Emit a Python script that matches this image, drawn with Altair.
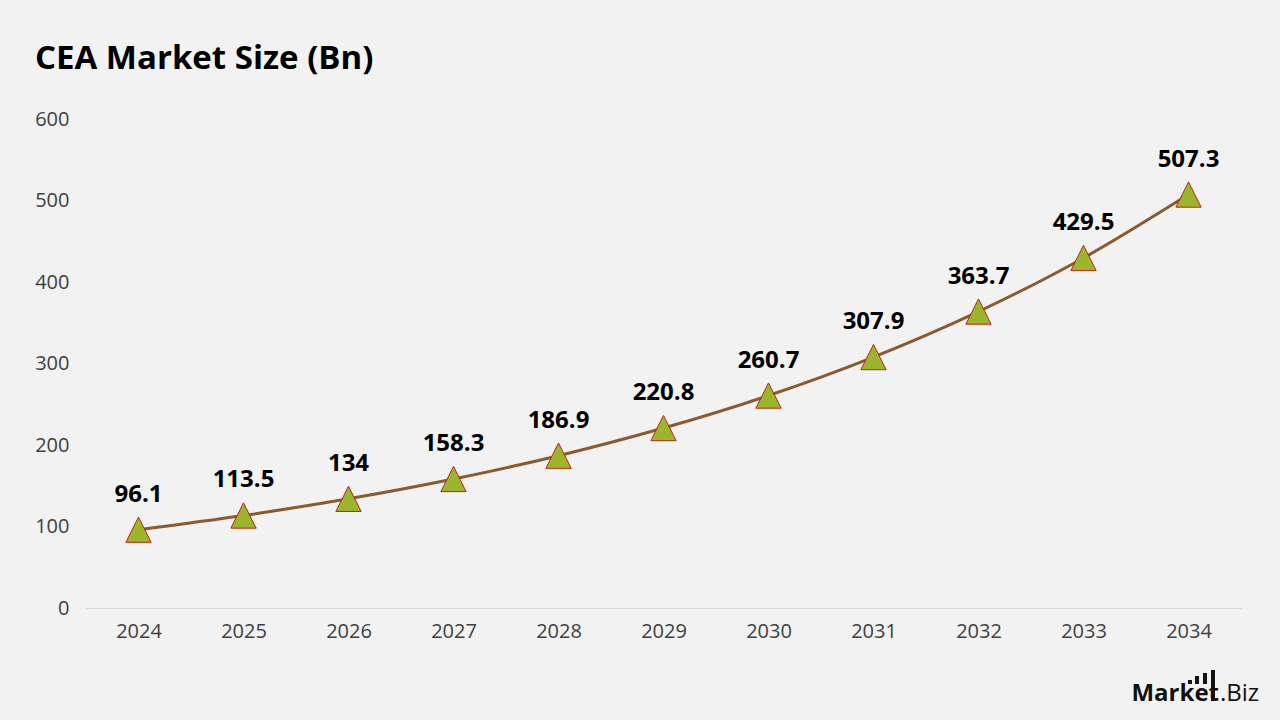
import altair as alt
import pandas as pd

# Market size series (billions)
years = ["2024", "2025", "2026", "2027", "2028", "2029", "2030", "2031", "2032", "2033", "2034"]
values = [96.1, 113.5, 134, 158.3, 186.9, 220.8, 260.7, 307.9, 363.7, 429.5, 507.3]
labels = ["96.1", "113.5", "134", "158.3", "186.9", "220.8", "260.7", "307.9", "363.7", "429.5", "507.3"]

df = pd.DataFrame({"year": years, "value": values, "label": labels})

FONT = "Open Sans"
BG = "#F2F2F2"

x = alt.X(
    "year:N",
    sort=years,
    title=None,
    scale=alt.Scale(paddingInner=0, paddingOuter=0.5),
    axis=alt.Axis(
        labelAngle=0,
        labelFontSize=20,
        labelColor="#404040",
        labelFont=FONT,
        labelPadding=13,
        domainColor="#D9D9D9",
        domainWidth=1,
        ticks=False,
        grid=False,
    ),
)
y = alt.Y(
    "value:Q",
    title=None,
    scale=alt.Scale(domain=[0, 600], nice=False),
    axis=alt.Axis(
        values=[0, 100, 200, 300, 400, 500, 600],
        labelFontSize=20,
        labelColor="#404040",
        labelFont=FONT,
        labelPadding=17,
        domain=False,
        ticks=False,
        grid=False,
    ),
)

base = alt.Chart(df)

line = base.mark_line(color="#8C5A30", strokeWidth=3, interpolate="monotone").encode(x=x, y=y)

points = base.mark_point(
    shape="M-1,1L0,-1L1,1Z",
    size=640,
    filled=True,
    fill="#9BB52C",
    stroke="#C0230F",
    strokeWidth=1,
    opacity=1,
).encode(x=x, y=y)

text = base.mark_text(
    dy=-35,
    fontSize=24,
    fontWeight="bold",
    font=FONT,
    color="#000000",
    baseline="middle",
).encode(x=x, y=y, text="label:N")

# Brand mark in the lower-right corner
brand_df = pd.DataFrame({"a": ["Market"], "b": [".Biz"]})
brand_bold = alt.Chart(brand_df).mark_text(
    font=FONT, fontSize=24, fontWeight="bold", color="#111111", align="right", baseline="alphabetic"
).encode(x=alt.value(1133), y=alt.value(582), text="a:N")
brand_rest = alt.Chart(brand_df).mark_text(
    font=FONT, fontSize=24, color="#111111", align="left", baseline="alphabetic"
).encode(x=alt.value(1134), y=alt.value(582), text="b:N")

# Small bar glyph above the brand word
glyph = [
    alt.Chart(brand_df).mark_rule(color="#111111", strokeWidth=4).encode(
        x=alt.value(gx), y=alt.value(gtop), y2=alt.value(gbot)
    )
    for gx, gtop, gbot in [(1104, 561, 565), (1111, 557, 565), (1119, 554, 565), (1127, 551, 582)]
]

chart = (
    alt.layer(line, points, text, brand_bold, brand_rest, *glyph)
    .properties(
        width=1155,
        height=489,
        background=BG,
        padding={"left": 86, "top": 119, "right": 39, "bottom": 112},
        autosize=alt.AutoSizeParams(type="none"),
        title=alt.TitleParams(
            "CEA Market Size (Bn)",
            anchor="start",
            frame="group",
            fontSize=33,
            fontWeight="bold",
            font=FONT,
            color="#000000",
            dx=-51,
            offset=33,
        ),
    )
    .configure_view(stroke=None)
)

chart.save("out.html", embed_options={"renderer": "svg", "actions": False})
